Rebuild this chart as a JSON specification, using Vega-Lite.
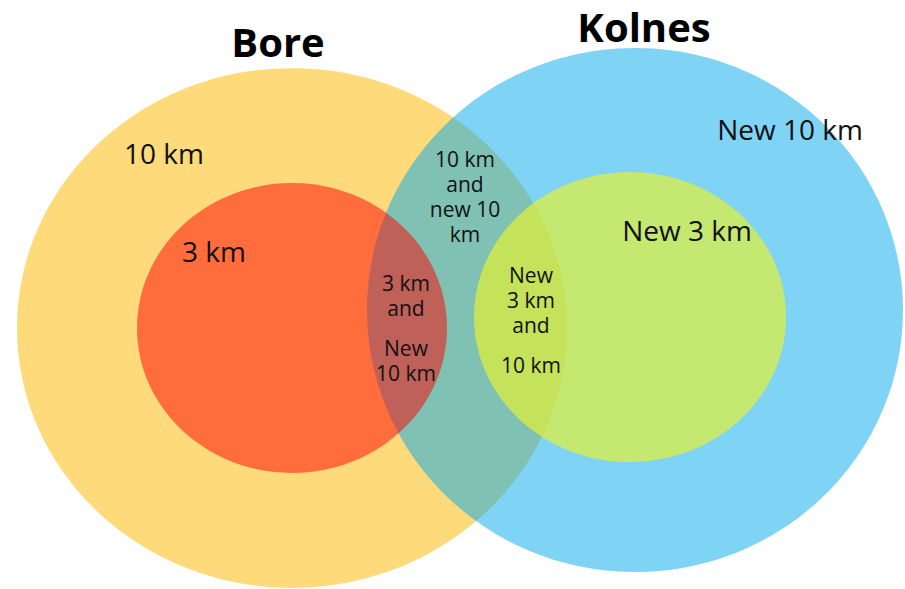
{
  "$schema": "https://vega.github.io/schema/vega-lite/v6.json",
  "width": 905,
  "height": 589,
  "padding": 0,
  "autosize": {"type": "none"},
  "background": "white",
  "config": {"view": {"stroke": null}},
  "datasets": {
    "sets": [
      {"set": "Bore 10 km", "cx": 292, "cy": 328, "rx": 275},
      {"set": "Kolnes new 10 km", "cx": 635, "cy": 310, "rx": 268},
      {"set": "Bore 3 km", "cx": 292, "cy": 328, "rx": 155},
      {"set": "Kolnes new 3 km", "cx": 630, "cy": 317, "rx": 156}
    ],
    "labels": [
      {"kind": "title", "text": ["Bore"], "x": 278, "y": 57},
      {"kind": "title", "text": ["Kolnes"], "x": 644, "y": 42},
      {"kind": "big", "text": ["10 km"], "x": 164, "y": 164},
      {"kind": "big", "text": ["3 km"], "x": 214, "y": 262},
      {"kind": "big", "text": ["New 10 km"], "x": 790, "y": 140},
      {"kind": "big", "text": ["New 3 km"], "x": 687, "y": 241},
      {"kind": "small", "text": ["10 km", "and", "new 10", "km"], "x": 465, "y": 167},
      {"kind": "small", "text": ["3 km", "and"], "x": 406, "y": 291},
      {"kind": "small", "text": ["New", "10 km"], "x": 406, "y": 356},
      {"kind": "small", "text": ["New", "3 km", "and"], "x": 531, "y": 283},
      {"kind": "small", "text": ["10 km"], "x": 531, "y": 373}
    ]
  },
  "layer": [
    {
      "data": {"name": "sets"},
      "transform": [{"filter": "datum.set === 'Bore 10 km'"}],
      "mark": {"type": "point", "filled": true, "shape": "M-1,0A1,0.945,0,1,1,1,0A1,0.945,0,1,1,-1,0Z", "color": "#FEDA7B", "opacity": 1, "strokeWidth": 0},
      "encoding": {
        "x": {"field": "cx", "type": "quantitative", "scale": {"domain": [0, 905], "nice": false, "zero": false}, "axis": null},
        "y": {"field": "cy", "type": "quantitative", "scale": {"domain": [0, 589], "nice": false, "zero": false, "reverse": true}, "axis": null},
        "size": {"field": "rx", "type": "quantitative", "scale": {"type": "pow", "exponent": 2, "domain": [0, 300], "range": [0, 360000]}, "legend": null}
      }
    },
    {
      "data": {"name": "sets"},
      "transform": [{"filter": "datum.set === 'Kolnes new 10 km'"}],
      "mark": {"type": "point", "filled": true, "shape": "M-1,0A1,0.978,0,1,1,1,0A1,0.978,0,1,1,-1,0Z", "color": "#00A7EB", "opacity": 0.5, "strokeWidth": 0},
      "encoding": {
        "x": {"field": "cx", "type": "quantitative", "scale": {"domain": [0, 905], "nice": false, "zero": false}, "axis": null},
        "y": {"field": "cy", "type": "quantitative", "scale": {"domain": [0, 589], "nice": false, "zero": false, "reverse": true}, "axis": null},
        "size": {"field": "rx", "type": "quantitative", "scale": {"type": "pow", "exponent": 2, "domain": [0, 300], "range": [0, 360000]}, "legend": null}
      }
    },
    {
      "data": {"name": "sets"},
      "transform": [{"filter": "datum.set === 'Bore 3 km'"}],
      "mark": {"type": "point", "filled": true, "shape": "M-1,0A1,0.935,0,1,1,1,0A1,0.935,0,1,1,-1,0Z", "color": "#FF0000", "opacity": 0.5, "strokeWidth": 0},
      "encoding": {
        "x": {"field": "cx", "type": "quantitative", "scale": {"domain": [0, 905], "nice": false, "zero": false}, "axis": null},
        "y": {"field": "cy", "type": "quantitative", "scale": {"domain": [0, 589], "nice": false, "zero": false, "reverse": true}, "axis": null},
        "size": {"field": "rx", "type": "quantitative", "scale": {"type": "pow", "exponent": 2, "domain": [0, 300], "range": [0, 360000]}, "legend": null}
      }
    },
    {
      "data": {"name": "sets"},
      "transform": [{"filter": "datum.set === 'Kolnes new 3 km'"}],
      "mark": {"type": "point", "filled": true, "shape": "M-1,0A1,0.93,0,1,1,1,0A1,0.93,0,1,1,-1,0Z", "color": "#E5F22E", "opacity": 0.67, "strokeWidth": 0},
      "encoding": {
        "x": {"field": "cx", "type": "quantitative", "scale": {"domain": [0, 905], "nice": false, "zero": false}, "axis": null},
        "y": {"field": "cy", "type": "quantitative", "scale": {"domain": [0, 589], "nice": false, "zero": false, "reverse": true}, "axis": null},
        "size": {"field": "rx", "type": "quantitative", "scale": {"type": "pow", "exponent": 2, "domain": [0, 300], "range": [0, 360000]}, "legend": null}
      }
    },
    {
      "data": {"name": "labels"},
      "transform": [{"filter": "datum.kind === 'title'"}],
      "mark": {"type": "text", "font": "Open Sans", "fontWeight": "bold", "fontSize": 40, "align": "center", "baseline": "alphabetic", "color": "#000000"},
      "encoding": {
        "x": {"field": "x", "type": "quantitative", "scale": {"domain": [0, 905], "nice": false, "zero": false}, "axis": null},
        "y": {"field": "y", "type": "quantitative", "scale": {"domain": [0, 589], "nice": false, "zero": false, "reverse": true}, "axis": null},
        "text": {"field": "text"}
      }
    },
    {
      "data": {"name": "labels"},
      "transform": [{"filter": "datum.kind === 'big'"}],
      "mark": {"type": "text", "font": "Open Sans", "fontSize": 28, "align": "center", "baseline": "alphabetic", "color": "#111111"},
      "encoding": {
        "x": {"field": "x", "type": "quantitative", "scale": {"domain": [0, 905], "nice": false, "zero": false}, "axis": null},
        "y": {"field": "y", "type": "quantitative", "scale": {"domain": [0, 589], "nice": false, "zero": false, "reverse": true}, "axis": null},
        "text": {"field": "text"}
      }
    },
    {
      "data": {"name": "labels"},
      "transform": [{"filter": "datum.kind === 'small'"}],
      "mark": {"type": "text", "font": "Open Sans", "fontSize": 21, "lineHeight": 25, "align": "center", "baseline": "alphabetic", "color": "#111111"},
      "encoding": {
        "x": {"field": "x", "type": "quantitative", "scale": {"domain": [0, 905], "nice": false, "zero": false}, "axis": null},
        "y": {"field": "y", "type": "quantitative", "scale": {"domain": [0, 589], "nice": false, "zero": false, "reverse": true}, "axis": null},
        "text": {"field": "text"}
      }
    }
  ]
}
